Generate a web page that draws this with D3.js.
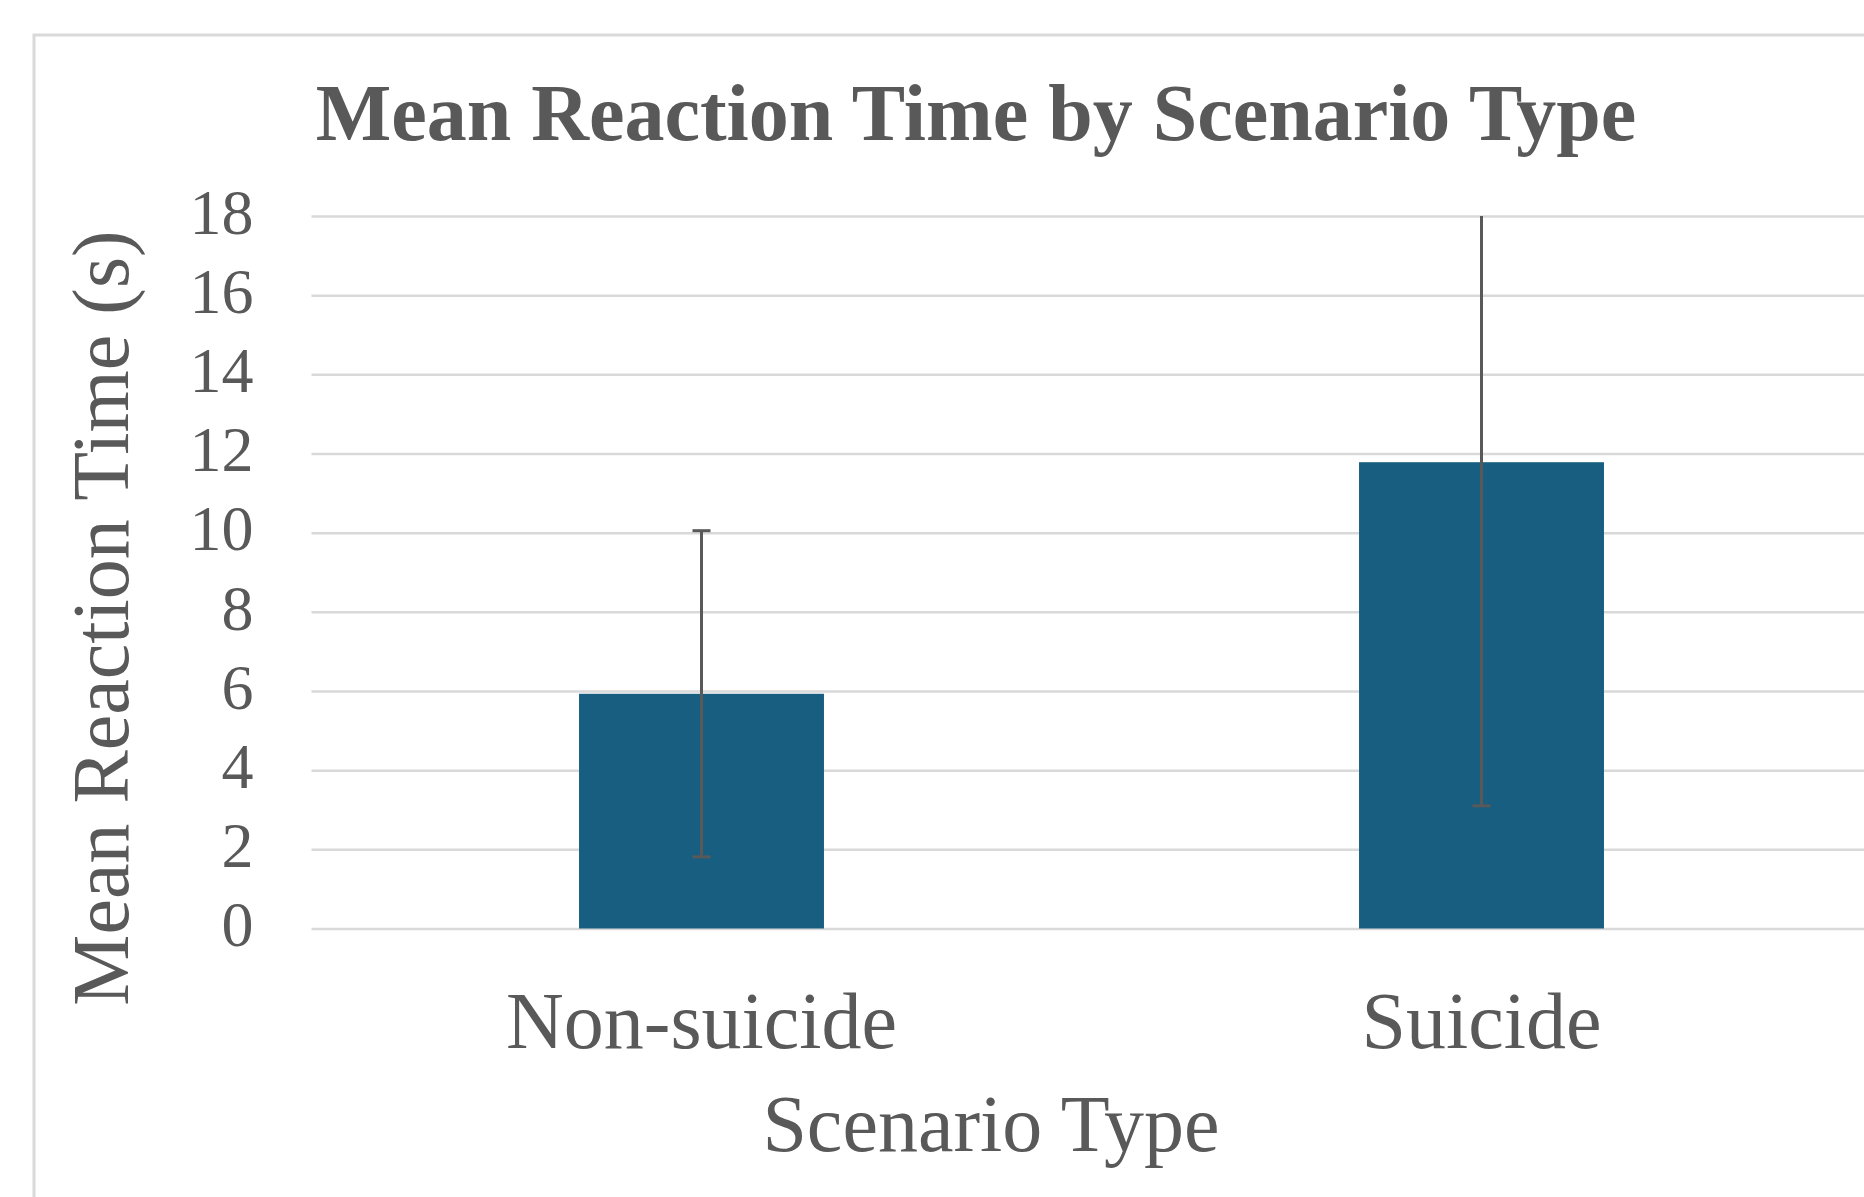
<!DOCTYPE html>
<html>
<head>
<meta charset="utf-8">
<script src="https://cdn.jsdelivr.net/npm/d3@7"></script>
<style>
  body { margin: 0; background: #fff; }
  text { font-family: "Liberation Serif", "Times New Roman", serif; fill: #595959; }
</style>
</head>
<body>
<svg></svg>
<script>
var WIDTH = 1864;
var HEIGHT = 1197;

var categories = ["Non-suicide", "Suicide"];
var means = [5.93, 11.78];
var errors = [4.12, 8.68];
var yTicks = [0, 2, 4, 6, 8, 10, 12, 14, 16, 18];

var plot = {left: 311.5, right: 1871.5, top: 216, bottom: 928.5};

var svg = d3.select("svg")
    .attr("width", WIDTH)
    .attr("height", HEIGHT);

// chart frame (runs off the picture right and bottom)
svg.append("rect")
    .attr("x", 34)
    .attr("y", 35)
    .attr("width", WIDTH + 20)
    .attr("height", HEIGHT + 20)
    .attr("fill", "#fff")
    .attr("stroke", "#d9d9d9")
    .attr("stroke-width", 3);

var x = d3.scaleBand()
    .domain(categories)
    .range([plot.left, plot.right]);

var y = d3.scaleLinear()
    .domain([0, 18])
    .range([plot.bottom, plot.top]);

var barW = x.bandwidth() * 0.314;

// gridlines + tick labels
var yAxis = svg.append("g")
    .attr("transform", "translate(" + plot.left + ",0)")
    .call(d3.axisLeft(y)
        .tickValues(yTicks)
        .tickSize(-(plot.right - plot.left))
        .tickPadding(58));

yAxis.select(".domain").remove();
yAxis.selectAll(".tick line")
    .attr("stroke", "#d9d9d9")
    .attr("stroke-width", 2.5);
yAxis.selectAll(".tick text")
    .attr("dy", "0.27em")
    .style("font-size", "64px")
    .style("font-family", "'Liberation Serif', 'Times New Roman', serif")
    .attr("fill", "#595959");

var data = categories.map(function(c, i) {
    return {cat: c, mean: means[i], err: errors[i]};
});

// bars
svg.append("g")
    .selectAll("rect")
    .data(data)
    .enter()
    .append("rect")
    .attr("x", function(d) { return x(d.cat) + (x.bandwidth() - barW) / 2; })
    .attr("y", function(d) { return y(d.mean); })
    .attr("width", barW)
    .attr("height", function(d) { return y(0) - y(d.mean); })
    .attr("fill", "#175e80");

// error bars, clipped at axis max like Excel
var yMax = y.domain()[1];
var eb = svg.append("g")
    .selectAll("g")
    .data(data)
    .enter()
    .append("g")
    .attr("stroke", "#595959")
    .attr("stroke-width", 3);

eb.append("line")
    .attr("x1", function(d) { return x(d.cat) + x.bandwidth() / 2; })
    .attr("x2", function(d) { return x(d.cat) + x.bandwidth() / 2; })
    .attr("y1", function(d) { return y(Math.min(d.mean + d.err, yMax)); })
    .attr("y2", function(d) { return y(Math.max(d.mean - d.err, 0)); });

eb.filter(function(d) { return d.mean + d.err <= yMax; })
    .append("line")
    .attr("x1", function(d) { return x(d.cat) + x.bandwidth() / 2 - 9; })
    .attr("x2", function(d) { return x(d.cat) + x.bandwidth() / 2 + 9; })
    .attr("y1", function(d) { return y(d.mean + d.err); })
    .attr("y2", function(d) { return y(d.mean + d.err); });

eb.append("line")
    .attr("x1", function(d) { return x(d.cat) + x.bandwidth() / 2 - 9; })
    .attr("x2", function(d) { return x(d.cat) + x.bandwidth() / 2 + 9; })
    .attr("y1", function(d) { return y(d.mean - d.err); })
    .attr("y2", function(d) { return y(d.mean - d.err); });

// category labels
svg.append("g")
    .selectAll("text")
    .data(categories)
    .enter()
    .append("text")
    .attr("x", function(d) { return x(d) + x.bandwidth() / 2; })
    .attr("y", 1048)
    .attr("text-anchor", "middle")
    .style("font-size", "80px")
    .text(function(d) { return d; });

// titles
svg.append("text")
    .attr("x", 976)
    .attr("y", 140)
    .attr("text-anchor", "middle")
    .style("font-size", "80px")
    .style("font-weight", "bold")
    .text("Mean Reaction Time by Scenario Type");

svg.append("text")
    .attr("x", 991)
    .attr("y", 1151)
    .attr("text-anchor", "middle")
    .style("font-size", "80px")
    .text("Scenario Type");

svg.append("text")
    .attr("transform", "translate(128,618) rotate(-90)")
    .attr("text-anchor", "middle")
    .style("font-size", "80px")
    .text("Mean Reaction Time (s)");
</script>
</body>
</html>
